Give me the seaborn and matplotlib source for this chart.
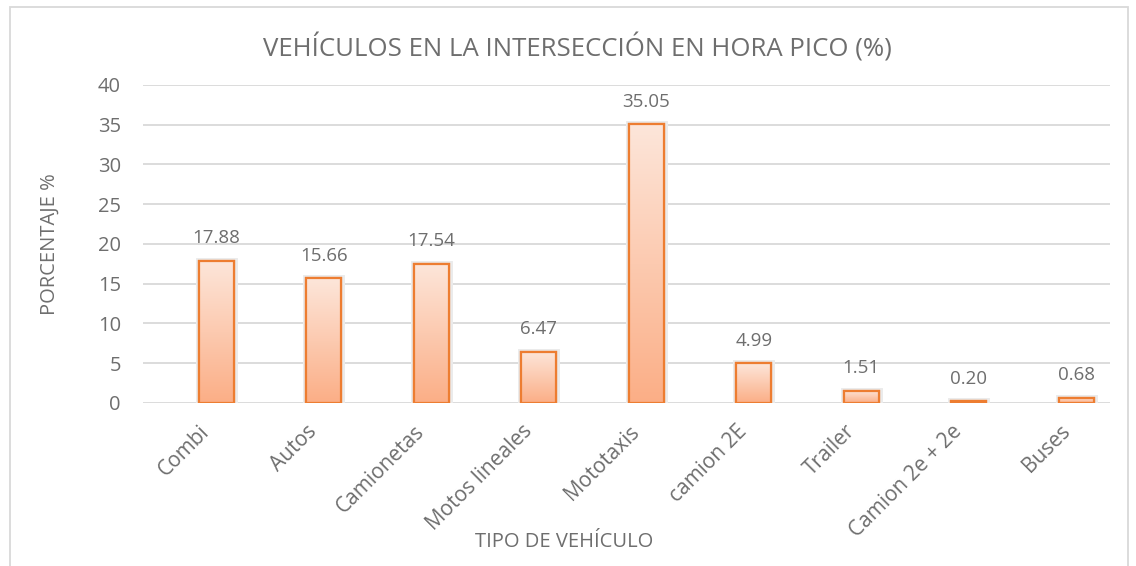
import numpy as np
import pandas as pd
import matplotlib
matplotlib.use("Agg")
import matplotlib.pyplot as plt
import matplotlib.patheffects as pe
import matplotlib.transforms as mtrans
from matplotlib.colors import LinearSegmentedColormap
from matplotlib.patches import Rectangle
import seaborn as sns

# data
categorias = ["Combi", "Autos", "Camionetas", "Motos lineales", "Mototaxis",
              "camion 2E", "Trailer", "Camion 2e + 2e", "Buses"]
porcentajes = [17.88, 15.66, 17.54, 6.47, 35.05, 4.99, 1.51, 0.20, 0.68]

df = pd.DataFrame({"tipo": categorias, "pct": porcentajes})

sns.set_theme(style="white")
plt.rcParams["font.family"] = ["Open Sans", "DejaVu Sans"]

gris = "#6e6e6e"
naranja = "#ED7D31"

fig = plt.figure(figsize=(11.36, 5.66), dpi=100)
ax = fig.add_axes([0.1259, 0.288, 0.851, 0.562])

sns.barplot(data=df, x="tipo", y="pct", ax=ax, width=0.325,
            color="#FBC2A4", edgecolor=naranja, linewidth=1.6, zorder=3)

# gradient fill + soft gray halo like the Excel bars
cmap = LinearSegmentedColormap.from_list("grad", ["#FBAE86", "#FDE6DA"])
grad = np.linspace(0, 1, 256).reshape(-1, 1)
for bar in ax.patches:
    x0, y0 = bar.get_x(), bar.get_y()
    w, h = bar.get_width(), bar.get_height()
    bar.set_path_effects([pe.Stroke(linewidth=5, foreground="#ebebeb"), pe.Normal()])
    bar.set_facecolor("none")
    im = ax.imshow(grad, extent=[x0, x0 + w, y0, y0 + h], origin="lower",
                   cmap=cmap, aspect="auto", zorder=3.5)
    im.set_clip_path(bar)
    edge = Rectangle((x0, y0), w, h, fill=False, edgecolor=naranja, linewidth=1.6, zorder=4)
    ax.add_patch(edge)

for i, v in enumerate(porcentajes):
    ax.text(i, v + 1.7, f"{v:.2f}", ha="center", va="bottom", color=gris, fontsize=13.5)

ax.set_xlim(-0.68, 8.31)
ax.set_ylim(0, 40)
ax.set_yticks(np.arange(0, 41, 5))
ax.yaxis.grid(True, color="#d9d9d9", linewidth=1.3, zorder=0)
ax.set_axisbelow(True)
for s in ax.spines.values():
    s.set_visible(False)
ax.tick_params(axis="both", length=0, colors=gris, labelsize=14.5)
ax.tick_params(axis="y", pad=16)
ax.tick_params(axis="x", pad=13)
shift = mtrans.ScaledTranslation(-0.17, 0, fig.dpi_scale_trans)
for lab in ax.get_xticklabels():
    lab.set_rotation(45)
    lab.set_ha("right")
    lab.set_rotation_mode("anchor")
    lab.set_fontsize(15)
    lab.set_transform(lab.get_transform() + shift)

ax.set_xlabel("TIPO DE VEHÍCULO", color=gris, fontsize=14.5)
ax.xaxis.set_label_coords(0.436, -0.405)
ax.set_ylabel("PORCENTAJE %", color=gris, fontsize=14.5)
ax.yaxis.set_label_coords(-0.086, 0.5)
fig.text(0.508, 0.915, "VEHÍCULOS EN LA INTERSECCIÓN EN HORA PICO (%)",
         ha="center", va="center", color=gris, fontsize=18.5)

# chart area border
fig.patches.append(Rectangle((10 / 1136, -0.01), 1118 / 1136, 1 - 7 / 566 + 0.01,
                             transform=fig.transFigure, fill=False,
                             edgecolor="#d9d9d9", linewidth=1.3))

fig.savefig("out.png", dpi=100)
